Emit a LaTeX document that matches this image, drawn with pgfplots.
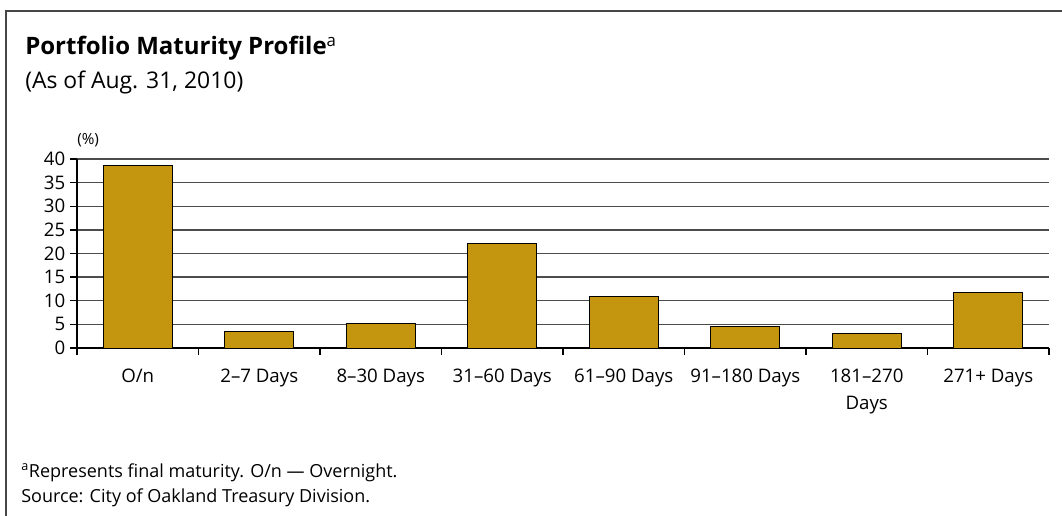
\documentclass[border=0pt]{standalone}
\usepackage{pgfplots}
\pgfplotsset{compat=1.18}
\usepackage{fontspec}
\setmainfont{Open Sans}
\definecolor{barcol}{RGB}{196,149,14}
\definecolor{framecol}{RGB}{70,70,70}
\begin{document}
\begin{tikzpicture}
\begin{scope}[x=0.75pt,y=-0.75pt]
\path[use as bounding box] (0,0) rectangle (1062,516);
\draw[framecol, line width=1.5pt] (6,516) -- (6,11.5) -- (1062,11.5);
\node[anchor=base west, inner sep=0pt, font=\fontsize{18}{20}\selectfont\bfseries] at (25,55) {Portfolio Maturity Profile\textsuperscript{\mdseries a}};
\node[anchor=base west, inner sep=0pt, font=\fontsize{17.2}{18}\selectfont] at (25,89) {(As of Aug. 31, 2010)};
\node[anchor=base west, inner sep=0pt, font=\fontsize{11.5}{12}\selectfont] at (77,145) {(\%)};
\node[anchor=base west, inner sep=0pt, font=\fontsize{13.5}{14}\selectfont] at (21,477) {\textsuperscript{a}Represents final maturity. O/n — Overnight.};
\node[anchor=base west, inner sep=0pt, font=\fontsize{13.5}{14}\selectfont] at (21,502) {Source: City of Oakland Treasury Division.};
\end{scope}
\begin{axis}[
  at={(57.75pt,-261pt)}, anchor=south west,
  scale only axis, width=729pt, height=141.75pt,
  xmin=-0.5, xmax=7.5, ymin=0, ymax=40,
  axis x line*=bottom, axis y line*=left,
  axis line style={-, draw=black, line width=1pt},
  ytick={0,5,...,40},
  ymajorgrids,
  grid style={draw=black!70, line width=1pt},
  xtick={0,...,7},
  xticklabels={O/n, 2–7 Days, 8–30 Days, 31–60 Days, 61–90 Days, 91–180 Days, 181–270\\Days, 271+ Days},
  major x tick style={draw=none},
  minor xtick={-0.5,0.5,...,7.5},
  tick align=outside,
  major tick length=5.25pt, minor tick length=5.25pt,
  tick style={draw=black, line width=1pt},
  ticklabel style={font=\fontsize{14}{20}\selectfont},
  xticklabel style={align=center, anchor=north, yshift=-7pt},
  yticklabel style={anchor=east},
  /pgf/number format/assume math mode=true,
  ybar, bar width=51.75pt,
]
\addplot[fill=barcol, draw=black, line width=0.75pt] coordinates {
(0,38.7) (1,3.5) (2,5.1) (3,22.2) (4,11.0) (5,4.6) (6,3.0) (7,11.8)
};
\end{axis}
\end{tikzpicture}
\end{document}
